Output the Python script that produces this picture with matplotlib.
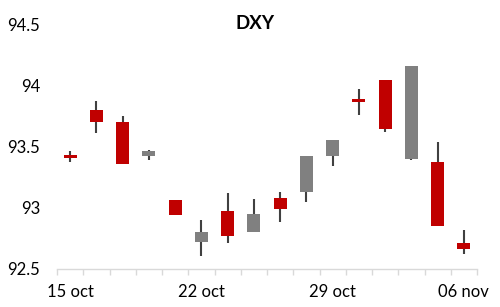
import matplotlib
matplotlib.use("Agg")
import matplotlib.pyplot as plt
import numpy as np

plt.rcParams['font.family'] = ['Lato', 'DejaVu Sans']

title = "DXY"
x_labels = ["15 oct", "22 oct", "29 oct", "06 nov"]
label_idx = [0, 5, 10, 15]

opens  = [93.43, 93.80, 93.70, 93.42, 93.06, 92.72, 92.97, 92.80, 93.08, 93.13, 93.42, 93.89, 94.04, 93.40, 93.37, 92.71]
highs  = [93.46, 93.87, 93.75, 93.47, 93.06, 92.90, 93.12, 93.07, 93.13, 93.42, 93.55, 93.97, 94.04, 94.16, 93.54, 92.82]
lows   = [93.37, 93.61, 93.36, 93.39, 92.94, 92.61, 92.71, 92.80, 92.88, 93.05, 93.34, 93.76, 93.62, 93.39, 92.85, 92.62]
closes = [93.41, 93.70, 93.36, 93.46, 92.94, 92.80, 92.77, 92.95, 92.99, 93.42, 93.55, 93.86, 93.64, 94.16, 92.85, 92.66]

up_color = "#808080"
down_color = "#C00000"
wick_color = "#404040"

fig = plt.figure(figsize=(5.0, 3.07), dpi=100)
ax = fig.add_axes([0.114, 0.1238, 0.84, 0.798])

n = len(opens)
xs = np.arange(n) + 0.5
o = np.array(opens); c = np.array(closes)
h = np.array(highs); l = np.array(lows)

ax.vlines(xs, l, h, color=wick_color, linewidth=1.5, zorder=2)
colors = [up_color if cc > oo else down_color for oo, cc in zip(o, c)]
ax.bar(xs, np.abs(c - o), bottom=np.minimum(o, c), width=0.5,
       color=colors, zorder=3, linewidth=0)

ax.set_xlim(0, n)
ax.set_ylim(92.5, 94.5)
ax.set_yticks([92.5, 93, 93.5, 94, 94.5])
ax.set_yticklabels(["92.5", "93", "93.5", "94", "94.5"])

ax.set_xticks(np.arange(n + 1))
ax.set_xticklabels([])
ax.set_xticks([xs[i] for i in label_idx], x_labels, minor=True)
ax.tick_params(axis='x', which='major', length=4, width=1, color='#D9D9D9', direction='out')
ax.tick_params(axis='x', which='minor', length=0, pad=11, labelsize=12, labelcolor='black')
ax.tick_params(axis='y', length=0, pad=12, labelsize=12, labelcolor='black')

for s in ['top', 'right', 'left']:
    ax.spines[s].set_visible(False)
ax.spines['bottom'].set_color('#D9D9D9')
ax.spines['bottom'].set_linewidth(1)

fig.text(0.51, 0.925, title, ha='center', va='center', fontsize=13.5, fontweight='bold')

fig.savefig("out.png", dpi=100)
